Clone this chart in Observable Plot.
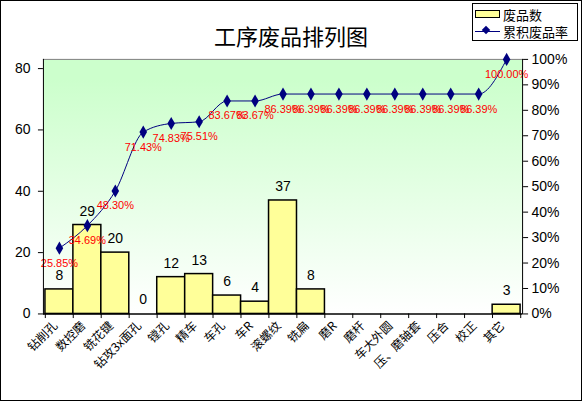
<!DOCTYPE html>
<html><head><meta charset="utf-8">
<script src="https://cdn.jsdelivr.net/npm/d3@7"></script>
<script src="https://cdn.jsdelivr.net/npm/@observablehq/plot@0.6"></script>
<style>
html,body{margin:0;padding:0;background:#fff;}
#wrap{position:relative;width:580px;height:399px;border:1px solid #000;overflow:hidden;font-family:"Liberation Sans",Arial,sans-serif;}
#chart{position:absolute;left:-1px;top:-1px;}
#title{position:absolute;left:0;width:580px;top:18px;text-align:center;font:22px "Noto Sans CJK SC",sans-serif;color:#000;}
#legend{position:absolute;left:471px;top:2px;width:104px;height:36px;border:1px solid #000;background:#fff;font:13px "Noto Sans CJK SC",sans-serif;}
.row{position:absolute;left:2px;height:18px;display:flex;align-items:center;}
.sw{width:23px;height:6px;background:#FFFF99;border:1px solid #000;margin-right:3px;}
.ln{position:relative;width:25px;height:1px;background:#000080;margin-right:3px;}
.ln i{position:absolute;left:8px;top:-4px;width:6px;height:6px;background:#000080;transform:rotate(45deg);}
</style></head>
<body>
<div id="wrap">
<div id="chart"></div>
<div id="title">工序废品排列图</div>
<div id="legend">
<div class="row" style="top:1px"><span class="sw"></span>废品数</div>
<div class="row" style="top:18px"><span class="ln"><i></i></span>累积废品率</div>
</div>
</div>
<script>
const categories = ["钻削孔","数控磨","铣花键","钻攻3x面孔","镗孔","精车","车孔","车R","滚螺纹","铣扁","磨R","磨杆","车大外圆","压、磨轴套","压合","校正","其它"];
const counts = [8,29,20,0,12,13,6,4,37,8,null,null,null,null,null,null,3];
const cumPct = [25.85,34.69,48.30,71.43,74.83,75.51,83.67,83.67,86.39,86.39,86.39,86.39,86.39,86.39,86.39,86.39,100.00];
const leftTicks = [0,20,40,60,80];
const rightTicks = [0,10,20,30,40,50,60,70,80,90,100];
const YMAX = 83;

const bars = categories.map((c,i)=>({cat:c, n:counts[i]}));
const labeled = bars.filter(d=>d.n!=null);
const line = categories.map((c,i)=>({cat:c, v:cumPct[i]/100*YMAX, p:cumPct[i]}));
const W=582,H=401,ML=43,MR=59,MT=59,MB=87;
const bw=(W-ML-MR)/categories.length;

const plot = Plot.plot({
  width:W, height:H, marginLeft:ML, marginRight:MR, marginTop:MT, marginBottom:MB,
  style:{fontFamily:'"Liberation Sans",Arial,sans-serif', fontSize:"13px", color:"#000", background:"transparent"},
  x:{domain:categories, padding:0, label:null},
  y:{domain:[0,YMAX], label:null},
  marks:[
    Plot.frame({fill:"url(#bg)", stroke:"none"}),
    Plot.frame({anchor:"top", stroke:"#808080"}),
    Plot.barY(labeled,{x:"cat", y:"n", fill:"#FFFF99", stroke:"#000", strokeWidth:1.5}),
    Plot.text(labeled,{x:"cat", y:"n", text:d=>String(d.n), dy:-14, fontSize:14, fill:"#000"}),
    Plot.line(line,{x:"cat", y:"v", stroke:"#000080", strokeWidth:1, curve:"monotone-x"}),
    Plot.dot(line,{x:"cat", y:"v", symbol:"diamond", fill:"#000080", r:4}),
    Plot.text(line,{x:"cat", y:"v", text:d=>d.p.toFixed(2)+"%", dy:15, fontSize:11, fill:"#FF0000"}),
    Plot.ruleY([0],{stroke:"#000", strokeWidth:1.5}),
    Plot.frame({anchor:"left", stroke:"#000"}),
    Plot.frame({anchor:"right", stroke:"#000"}),
    Plot.ruleX(categories,{x:d=>d, y1:0, y2:-1.5, dx:-bw/2, stroke:"#000"}),
    Plot.ruleX([categories[categories.length-1]],{x:d=>d, y1:0, y2:-1.5, dx:bw/2, stroke:"#000"}),
    Plot.axisY({anchor:"left", ticks:leftTicks, tickSize:5, tickPadding:8, fontSize:14}),
    Plot.axisY({anchor:"right", ticks:rightTicks.map(p=>p/100*YMAX), tickFormat:d=>Math.round(d/YMAX*100)+"%", tickSize:5, tickPadding:4, fontSize:14}),
    Plot.axisX({tickSize:0, tickRotate:-45, tickPadding:10, dx:-4, fontSize:12, fontFamily:'"Noto Sans CJK SC",sans-serif'})
  ]
});
const svg = plot;
d3.select(svg).insert("defs",":first-child").html(
  '<linearGradient id="bg" x1="0" y1="0" x2="0" y2="1">'+
  '<stop offset="0" stop-color="#CCFFCC"/><stop offset="0.08" stop-color="#CCFFCC"/>'+
  '<stop offset="0.55" stop-color="#E6FFE6"/><stop offset="1" stop-color="#FFFFFF"/></linearGradient>');
document.getElementById("chart").appendChild(svg);
</script>
</body></html>
